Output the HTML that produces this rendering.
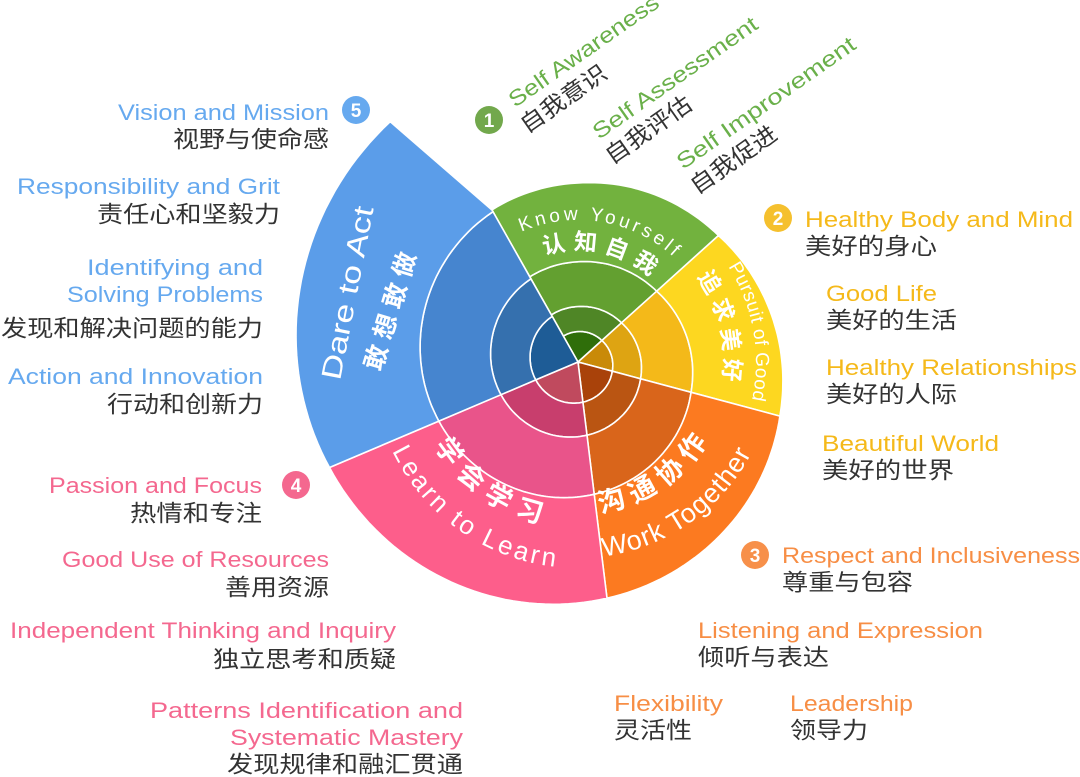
<!DOCTYPE html>
<html><head><meta charset="utf-8">
<style>
html,body{margin:0;padding:0;background:#fff;}
svg{display:block;}
text{font-family:"Liberation Sans","Noto Sans CJK SC",sans-serif;}
.cn{fill:#333;font-size:23px;}
.en{font-size:22px;}
.b{fill:#66a9ef}.g{fill:#6ab04a}.y{fill:#f5b91a}.o{fill:#f78e45}.p{fill:#f4688f}
.w{fill:#fff;}
</style></head>
<body>
<svg id="s" width="1080" height="777" viewBox="0 0 1080 777" xmlns="http://www.w3.org/2000/svg">
<defs id="d"></defs>
<g id="wedges"></g>
<g id="inner"></g>

<g transform="translate(348,293) rotate(-79)"><text x="0" y="9" text-anchor="middle" class="w" font-size="28" textLength="176" lengthAdjust="spacingAndGlyphs">Dare to Act</text></g>
<g transform="translate(390,311) rotate(-73)"><text x="0" y="9" text-anchor="middle" class="w" font-size="25" font-weight="bold" textLength="122" lengthAdjust="spacing">敢想敢做</text></g>

<circle cx="489" cy="120" r="14" fill="#72a84c"/>
<text x="489" y="127" text-anchor="middle" class="w" font-size="19" font-weight="bold">1</text>
<g transform="translate(515,108) rotate(-35)"><text class="en g" textLength="178" lengthAdjust="spacingAndGlyphs">Self Awareness</text></g>
<g transform="translate(527,134) rotate(-35)"><text class="cn" textLength="100" lengthAdjust="spacingAndGlyphs">自我意识</text></g>
<g transform="translate(599,140) rotate(-35)"><text class="en g" textLength="196" lengthAdjust="spacingAndGlyphs">Self Assessment</text></g>
<g transform="translate(612,165) rotate(-35)"><text class="cn" textLength="100" lengthAdjust="spacingAndGlyphs">自我评估</text></g>
<g transform="translate(683,170) rotate(-35)"><text class="en g" textLength="213" lengthAdjust="spacingAndGlyphs">Self Improvement</text></g>
<g transform="translate(697,195) rotate(-35)"><text class="cn" textLength="100" lengthAdjust="spacingAndGlyphs">自我促进</text></g>

<circle cx="778" cy="218" r="14" fill="#f5c02e"/>
<text x="778" y="225" text-anchor="middle" class="w" font-size="19" font-weight="bold">2</text>
<text x="805" y="227" class="en y" textLength="268" lengthAdjust="spacingAndGlyphs">Healthy Body and Mind</text>
<text x="805" y="254" class="cn" textLength="132" lengthAdjust="spacingAndGlyphs">美好的身心</text>
<text x="826" y="301" class="en y" textLength="111" lengthAdjust="spacingAndGlyphs">Good Life</text>
<text x="826" y="328" class="cn" textLength="131" lengthAdjust="spacingAndGlyphs">美好的生活</text>
<text x="826" y="375" class="en y" textLength="251" lengthAdjust="spacingAndGlyphs">Healthy Relationships</text>
<text x="826" y="402" class="cn" textLength="131" lengthAdjust="spacingAndGlyphs">美好的人际</text>
<text x="822" y="451" class="en y" textLength="177" lengthAdjust="spacingAndGlyphs">Beautiful World</text>
<text x="822" y="478" class="cn" textLength="132" lengthAdjust="spacingAndGlyphs">美好的世界</text>

<circle cx="755" cy="555" r="14" fill="#f7904a"/>
<text x="755" y="562" text-anchor="middle" class="w" font-size="19" font-weight="bold">3</text>
<text x="782" y="563" class="en o" textLength="298" lengthAdjust="spacingAndGlyphs">Respect and Inclusiveness</text>
<text x="782" y="590" class="cn" textLength="131" lengthAdjust="spacingAndGlyphs">尊重与包容</text>
<text x="698" y="638" class="en o" textLength="285" lengthAdjust="spacingAndGlyphs">Listening and Expression</text>
<text x="698" y="665" class="cn" textLength="131" lengthAdjust="spacingAndGlyphs">倾听与表达</text>
<text x="614" y="711" class="en o" textLength="109" lengthAdjust="spacingAndGlyphs">Flexibility</text>
<text x="614" y="738" class="cn" textLength="78" lengthAdjust="spacingAndGlyphs">灵活性</text>
<text x="790" y="711" class="en o" textLength="123" lengthAdjust="spacingAndGlyphs">Leadership</text>
<text x="790" y="738" class="cn" textLength="78" lengthAdjust="spacingAndGlyphs">领导力</text>

<circle cx="356" cy="110" r="14" fill="#66a9ef"/>
<text x="356" y="117" text-anchor="middle" class="w" font-size="19" font-weight="bold">5</text>
<text x="329" y="120" text-anchor="end" class="en b" textLength="211" lengthAdjust="spacingAndGlyphs">Vision and Mission</text>
<text x="329" y="147" text-anchor="end" class="cn" textLength="156" lengthAdjust="spacingAndGlyphs">视野与使命感</text>
<text x="280" y="194" text-anchor="end" class="en b" textLength="263" lengthAdjust="spacingAndGlyphs">Responsibility and Grit</text>
<text x="280" y="222" text-anchor="end" class="cn" textLength="183" lengthAdjust="spacingAndGlyphs">责任心和坚毅力</text>
<text x="263" y="275" text-anchor="end" class="en b" textLength="176" lengthAdjust="spacingAndGlyphs">Identifying and</text>
<text x="263" y="302" text-anchor="end" class="en b" textLength="196" lengthAdjust="spacingAndGlyphs">Solving Problems</text>
<text x="263" y="336" text-anchor="end" class="cn" textLength="262" lengthAdjust="spacingAndGlyphs">发现和解决问题的能力</text>
<text x="263" y="384" text-anchor="end" class="en b" textLength="255" lengthAdjust="spacingAndGlyphs">Action and Innovation</text>
<text x="263" y="412" text-anchor="end" class="cn" textLength="156" lengthAdjust="spacingAndGlyphs">行动和创新力</text>

<circle cx="296" cy="485" r="14" fill="#f4688f"/>
<text x="296" y="492" text-anchor="middle" class="w" font-size="19" font-weight="bold">4</text>
<text x="262" y="493" text-anchor="end" class="en p" textLength="213" lengthAdjust="spacingAndGlyphs">Passion and Focus</text>
<text x="262" y="521" text-anchor="end" class="cn" textLength="132" lengthAdjust="spacingAndGlyphs">热情和专注</text>
<text x="329" y="567" text-anchor="end" class="en p" textLength="267" lengthAdjust="spacingAndGlyphs">Good Use of Resources</text>
<text x="329" y="595" text-anchor="end" class="cn" textLength="104" lengthAdjust="spacingAndGlyphs">善用资源</text>
<text x="396" y="638" text-anchor="end" class="en p" textLength="386" lengthAdjust="spacingAndGlyphs">Independent Thinking and Inquiry</text>
<text x="396" y="667" text-anchor="end" class="cn" textLength="183" lengthAdjust="spacingAndGlyphs">独立思考和质疑</text>
<text x="463" y="718" text-anchor="end" class="en p" textLength="313" lengthAdjust="spacingAndGlyphs">Patterns Identification and</text>
<text x="463" y="745" text-anchor="end" class="en p" textLength="233" lengthAdjust="spacingAndGlyphs">Systematic Mastery</text>
<text x="463" y="772" text-anchor="end" class="cn" textLength="236" lengthAdjust="spacingAndGlyphs">发现规律和融汇贯通</text>
</svg>
<script>
(function(){
var NS="http://www.w3.org/2000/svg",cx=578,cy=362;
var P=[[-125,174],[-90,179],[-42,189],[0,204],[15,209],[83,238],[90,241],[157,270],[232,305],[245,310]];
function R(a){for(var i=0;i<P.length-1;i++){if(a<=P[i+1][0]){var t=(a-P[i][0])/(P[i+1][0]-P[i][0]);return P[i][1]+t*(P[i+1][1]-P[i][1]);}}return P[P.length-1][1];}
function pt(r,a){var t=a*Math.PI/180;return [cx+r*Math.cos(t),cy+r*Math.sin(t)];}
var S=[[-119.5,-42,["#2f6e0a","#4f8626","#63a030","#72b23e"]],
[-42,15,["#c98a08","#dea412","#f4b919","#fdd720"]],
[15,83,["#a9420a","#ba5512","#d9651b","#fc7a20"]],
[83,157,["#c04a5e","#c83e6d","#e9548a","#fd5e8b"]],
[157,240.5,["#1e5c96","#3570ae","#4685cf","#5b9de9"]]];
var F=[0,0.17,0.31,0.56,1];
var g=document.getElementById("wedges");
S.forEach(function(s,si){for(var i=0;i<4;i++){var d="",n=40;
var a1=s[1];var blueOuter=(si==4&&i==3);if(blueOuter)a1=232;
for(var k=0;k<=n;k++){var a=s[0]+(a1-s[0])*k/n,p=pt(F[i+1]*R(a),a);d+=(k?"L":"M")+p[0].toFixed(1)+","+p[1].toFixed(1);}
if(blueOuter){d+="L492,210";}
if(F[i]==0){d+="L"+cx+","+cy;}else{for(var k=n;k>=0;k--){var a=s[0]+(s[1]-s[0])*k/n,p=pt(F[i]*R(a),a);d+="L"+p[0].toFixed(1)+","+p[1].toFixed(1);}}
d+="Z";var e=document.createElementNS(NS,"path");e.setAttribute("d",d);e.setAttribute("fill",s[2][i]);e.setAttribute("stroke","#fff");e.setAttribute("stroke-width","1.6");e.setAttribute("stroke-linejoin","round");g.appendChild(e);}});
var defs=document.getElementById("d"),inner=document.getElementById("inner"),id=0;
function arcText(r,a1,a2,txt,size,ls,weight){var p1=pt(r,a1),p2=pt(r,a2),sw=a2>a1?1:0,pid="tp"+(id++);
var e=document.createElementNS(NS,"path");e.setAttribute("id",pid);e.setAttribute("d","M"+p1[0]+","+p1[1]+" A"+r+","+r+" 0 0 "+sw+" "+p2[0]+","+p2[1]);defs.appendChild(e);
var t=document.createElementNS(NS,"text");t.setAttribute("fill","#fff");t.setAttribute("font-size",size);t.setAttribute("letter-spacing",ls);if(weight)t.setAttribute("font-weight",weight);t.setAttribute("text-anchor","middle");
var tp=document.createElementNS(NS,"textPath");tp.setAttribute("href","#"+pid);tp.setAttributeNS("http://www.w3.org/1999/xlink","xlink:href","#"+pid);tp.setAttribute("startOffset","50%");tp.textContent=txt;t.appendChild(tp);inner.appendChild(t);}
arcText(142,-150,-10,"Know Yourself",19,3.5);
arcText(112,-140,-14,"认知自我",23,7,"bold");
arcText(178,-60,40,"Pursuit of Good",19,0.5);
arcText(146,-60,34,"追求美好",23,6,"bold");
arcText(152,110,0,"沟通协作",27,8,"bold");
arcText(196,110,0,"Work Together",27,1);
arcText(166,180,70,"学会学习",27,9,"bold");
arcText(206,180,70,"Learn to Learn",26,3);
})();
</script>
</body></html>
